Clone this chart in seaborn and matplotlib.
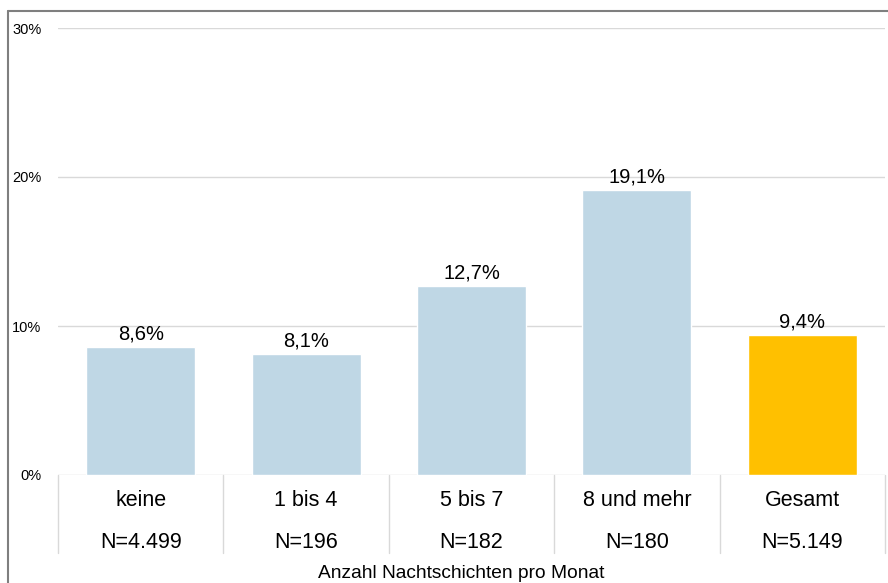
import matplotlib
matplotlib.use("Agg")
import matplotlib.pyplot as plt
import seaborn as sns
import pandas as pd
from matplotlib.lines import Line2D

categories = ["keine", "1 bis 4", "5 bis 7", "8 und mehr", "Gesamt"]
values = [8.6, 8.1, 12.7, 19.1, 9.4]
n_labels = ["N=4.499", "N=196", "N=182", "N=180", "N=5.149"]
value_labels = ["8,6%", "8,1%", "12,7%", "19,1%", "9,4%"]
yticks = [0, 10, 20, 30]
ytick_labels = ["0%", "10%", "20%", "30%"]
xlabel = "Anzahl Nachtschichten pro Monat"
colors = ["#BFD7E5", "#BFD7E5", "#BFD7E5", "#BFD7E5", "#FFC000"]

sns.set_theme(style="white")
plt.rcParams["font.family"] = ["Liberation Sans", "DejaVu Sans"]
plt.rcParams["text.color"] = "black"
plt.rcParams["ytick.color"] = "black"

W, H = 888, 583
fig = plt.figure(figsize=(W / 100, H / 100), dpi=100)
left, right, bottom, top = 58, 885, 475, 28
ax = fig.add_axes([left / W, 1 - bottom / H, (right - left) / W, (bottom - top) / H])

df = pd.DataFrame({"cat": categories, "val": values})
sns.barplot(data=df, x="cat", y="val", hue="cat", palette=colors, legend=False,
            width=0.66, ax=ax, saturation=1, zorder=3)

ax.set_ylim(0, 30)
ax.set_xlim(-0.5, 4.5)
ax.set_yticks(yticks)
ax.set_yticklabels(ytick_labels, fontsize=10.5, color="black")
ax.tick_params(axis="y", length=0, pad=12)
ax.set_xticks([])
ax.set_xlabel("")
ax.set_ylabel("")
for s in ax.spines.values():
    s.set_visible(False)
ax.grid(axis="y", color="#D9D9D9", linewidth=1, zorder=0)

for i, (v, lab) in enumerate(zip(values, value_labels)):
    ax.annotate(lab, (i, v), xytext=(0, 2.5), textcoords="offset points",
                ha="center", va="bottom", fontsize=14.5, color="black")

# table below axis
tr = ax.get_xaxis_transform()
ph = bottom - top
for b in [-0.5, 0.5, 1.5, 2.5, 3.5, 4.5]:
    ax.add_line(Line2D([b, b], [0, -(553 - 475) / ph], transform=tr,
                       color="#D9D9D9", linewidth=1, clip_on=False))
for i, (c, n) in enumerate(zip(categories, n_labels)):
    ax.text(i, -(501 - 475) / ph, c, transform=tr, ha="center", va="center",
            fontsize=15.5, color="black")
    ax.text(i, -(542 - 475) / ph, n, transform=tr, ha="center", va="center",
            fontsize=15.5, color="black")

fig.text(461 / W, 1 - 573 / H, xlabel, ha="center", va="center", fontsize=13.8,
         color="black")

# outer border (left and top)
fig.add_artist(Line2D([8 / W, 8 / W], [0, 1 - 11 / H], transform=fig.transFigure,
                      color="#7F7F7F", linewidth=1.5))
fig.add_artist(Line2D([8 / W, 1], [1 - 11 / H, 1 - 11 / H], transform=fig.transFigure,
                      color="#7F7F7F", linewidth=1.5))

fig.savefig("out.png", dpi=100)
